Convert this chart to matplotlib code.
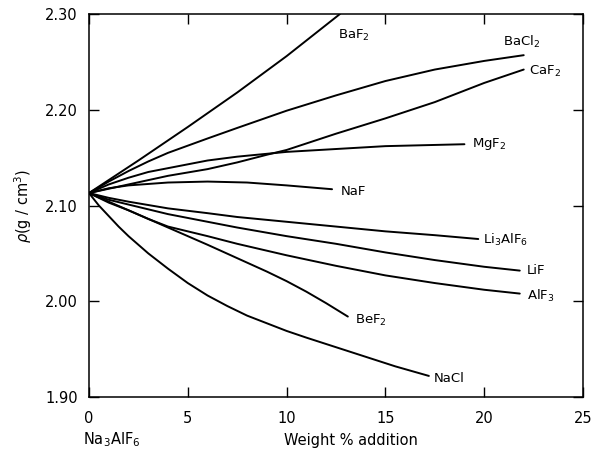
import matplotlib
matplotlib.use("Agg")
import matplotlib.pyplot as plt

plt.rcParams['font.family'] = ['DejaVu Sans']
plt.rcParams['mathtext.fontset'] = 'dejavusans'

# ---- data ----
baf2_x = [0, 2.5, 5, 7.5, 10, 12.7]
baf2_y = [2.113, 2.147, 2.182, 2.218, 2.256, 2.300]

bacl2_x = [0, 1, 2, 3, 4, 6, 7.5, 10, 12.5, 15, 17.5, 20, 22]
bacl2_y = [2.113, 2.125, 2.136, 2.146, 2.155, 2.170, 2.181, 2.199, 2.215, 2.230, 2.242, 2.251, 2.257]

caf2_x = [0, 2, 4, 6, 7.5, 9, 10, 12.5, 15, 17.5, 20, 22]
caf2_y = [2.113, 2.122, 2.131, 2.138, 2.145, 2.153, 2.158, 2.175, 2.191, 2.208, 2.228, 2.242]

mgf2_x = [0, 1, 2, 3, 4, 6, 7.5, 10, 12.5, 15, 19]
mgf2_y = [2.113, 2.122, 2.129, 2.135, 2.139, 2.147, 2.151, 2.156, 2.159, 2.162, 2.164]

naf_x = [0, 1, 2, 4, 6, 8, 10, 12.3]
naf_y = [2.113, 2.118, 2.121, 2.124, 2.125, 2.124, 2.121, 2.117]

li3alf6_x = [0, 1, 2, 4, 6, 7.5, 10, 12.5, 15, 17.5, 19.7]
li3alf6_y = [2.113, 2.108, 2.104, 2.097, 2.092, 2.088, 2.083, 2.078, 2.073, 2.069, 2.065]

lif_x = [0, 1, 2, 4, 6, 7.5, 10, 12.5, 15, 17.5, 20, 21.8]
lif_y = [2.113, 2.106, 2.101, 2.091, 2.083, 2.077, 2.068, 2.060, 2.051, 2.043, 2.036, 2.032]

alf3_x = [0, 1, 2, 3, 4, 6, 7.5, 10, 12.5, 15, 17.5, 20, 21.8]
alf3_y = [2.113, 2.103, 2.095, 2.086, 2.078, 2.068, 2.060, 2.048, 2.037, 2.027, 2.019, 2.012, 2.008]

bef2_x = [0, 2, 4, 6, 7.5, 9, 10, 11, 12, 13.1]
bef2_y = [2.113, 2.095, 2.077, 2.059, 2.045, 2.031, 2.021, 2.010, 1.998, 1.984]

nacl_x = [0, 0.5, 1, 1.5, 2, 3, 4, 5, 6, 7, 8, 9, 10, 11, 12.5, 14, 15.5, 17.2]
nacl_y = [2.113, 2.100, 2.089, 2.078, 2.068, 2.050, 2.034, 2.019, 2.006, 1.995, 1.985,
          1.977, 1.969, 1.962, 1.952, 1.942, 1.932, 1.922]

labels = [r'BaF$_2$', r'BaCl$_2$', r'CaF$_2$', r'MgF$_2$', r'NaF',
          r'Li$_3$AlF$_6$', r'LiF', r'AlF$_3$', r'BeF$_2$', r'NaCl']
label_x = [12.6, 20.95, 22.27, 19.38, 12.75, 19.93, 22.17, 22.17, 13.46, 17.46]
label_y = [2.278, 2.271, 2.2405, 2.1642, 2.115, 2.064, 2.032, 2.0055, 1.980, 1.9198]

series = [(baf2_x, baf2_y), (bacl2_x, bacl2_y), (caf2_x, caf2_y), (mgf2_x, mgf2_y),
          (naf_x, naf_y), (li3alf6_x, li3alf6_y), (lif_x, lif_y), (alf3_x, alf3_y),
          (bef2_x, bef2_y), (nacl_x, nacl_y)]

x_ticks = [0, 5, 10, 15, 20, 25]
y_ticks = [1.90, 2.00, 2.10, 2.20, 2.30]
y_tick_labels = ['1.90', '2.00', '2.10', '2.20', '2.30']

# ---- figure ----
fig = plt.figure(figsize=(5.92, 4.55), dpi=100)
ax = fig.add_axes([0.1503, 0.1275, 0.8345, 0.8417])

for (xs, ys) in series:
    ax.plot(xs, ys, color='black', lw=1.4, solid_capstyle='round', solid_joinstyle='round')

for lab, lx, ly in zip(labels, label_x, label_y):
    ax.text(lx, ly, lab, fontsize=9.5, ha='left', va='center', color='black')

ax.set_xlim(0, 25)
ax.set_ylim(1.90, 2.30)
ax.set_xticks(x_ticks)
ax.set_yticks(y_ticks)
ax.set_yticklabels(y_tick_labels)
ax.tick_params(direction='in', length=7, width=1.0, labelsize=10.5,
               top=True, right=True, colors='black')
ax.tick_params(axis='x', pad=10)
ax.tick_params(axis='y', pad=8)
for sp in ax.spines.values():
    sp.set_linewidth(1.1)

ax.set_ylabel(r'$\rho$(g / cm$^3$)', fontsize=10.5, labelpad=8)

fig.text(83 / 592, 1 - 440 / 455, r'Na$_3$AlF$_6$', fontsize=10.5, ha='left', va='center')
fig.text(351 / 592, 1 - 440 / 455, 'Weight % addition', fontsize=10.5, ha='center', va='center')

fig.savefig('out.png', dpi=100, facecolor='white')
